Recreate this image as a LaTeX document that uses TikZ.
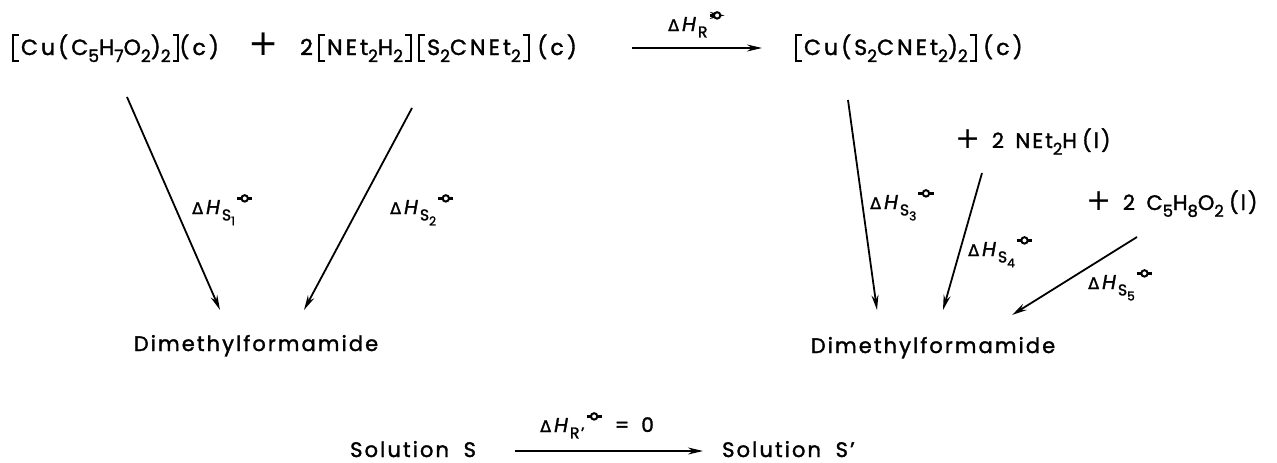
\documentclass[tikz,border=0pt]{standalone}
\usepackage{fontspec}
\setmainfont[LetterSpace=10,FakeBold=1.6]{Poppins}
\newfontfamily\dejavu[FakeBold=1.6]{DejaVu Sans}
\newfontfamily\plusfont{DejaVu Sans}
\usetikzlibrary{arrows.meta}
\newcommand{\sub}[1]{\raisebox{-0.32em}{\scalebox{0.78}{#1}}}
\newcommand{\LB}{\makebox[0.4em][l]{\rule[-0.33em]{0.09em}{1.3em}\hspace{-0.09em}\rule[-0.33em]{0.3em}{0.09em}\hspace{-0.3em}\rule[0.88em]{0.3em}{0.09em}}}
\newcommand{\RB}{\makebox[0.4em][r]{\rule[-0.33em]{0.3em}{0.09em}\hspace{-0.3em}\rule[0.88em]{0.3em}{0.09em}\hspace{-0.09em}\rule[-0.33em]{0.09em}{1.3em}}}
\newcommand{\std}{\hspace{0.05em}\tikz[baseline=0pt]{\draw[line width=0.11em] (-0.38em,0.78em) -- (0.38em,0.78em); \filldraw[fill=white, line width=0.1em] (0,0.78em) circle (0.16em);}}
\newcommand{\dH}[1]{{\dejavu\scalebox{0.8}{Δ}}\hspace{0.15em}\textit{H}\sub{#1}\std}
\newcommand{\pl}{{\plusfont\fontsize{30}{30}\selectfont +}}
\begin{document}
\begin{tikzpicture}[x=1pt,y=-1pt,
  txt/.style={inner sep=0pt, font=\fontsize{21}{25}\selectfont},
  big/.style={inner sep=0pt, font=\fontsize{22}{26}\selectfont\addfontfeatures{LetterSpace=14}},
  lbl/.style={inner sep=0pt, anchor=base west, font=\fontsize{20}{23}\selectfont},
  arr/.style={line width=1.8pt, -{Stealth[length=15pt,width=7pt]}}]
\useasboundingbox (0,0) rectangle (1277,463);
% top row
\node[big, anchor=base west] (r1) at (12,55) {\LB Cu(C\sub{5}H\sub{7}O\sub{2})\sub{2}\RB(c)};
\node[txt, font=\plusfont\fontsize{36}{36}\selectfont] (plus) at (264,44) {+};
\node[big, anchor=base west] (r2) at (300,55) {2\hspace{0.25em}\LB NEt\sub{2}H\sub{2}\RB\hspace{0.3em}\LB S\sub{2}CNEt\sub{2}\RB\hspace{0.35em}(c)};
\node[big, anchor=base west] (p) at (795,55) {\LB Cu(S\sub{2}CNEt\sub{2})\sub{2}\RB\hspace{0.3em}(c)};
\coordinate (ra) at (632,48);
\coordinate (rb) at (762,48);
\draw[arr] (ra) -- (rb) node[lbl, midway, above=17pt, anchor=base] (lr) {\dH{R}};
% left
\node[txt, anchor=base] (dmf1) at (256,351) {Dimethylformamide};
\coordinate (s1a) at (127,97);  \coordinate (s1b) at (220,310);
\coordinate (s2a) at (412,108); \coordinate (s2b) at (304,310);
\draw[arr] (s1a) -- (s1b);
\draw[arr] (s2a) -- (s2b);
\node[lbl] (l1) at (192,214) {\dH{S\sub{1}}};
\node[lbl] (l2) at (390,214) {\dH{S\sub{2}}};
% right
\node[txt, anchor=base] (dmf2) at (933,353) {Dimethylformamide};
\node[txt, anchor=base west] (n1) at (955,148) {\pl\hspace{0.55em}2\hspace{0.55em}NEt\sub{2}H\hspace{0.25em}(l)};
\node[txt, anchor=base west] (n2) at (1086,210) {\pl\hspace{0.55em}2\hspace{0.55em}C\sub{5}H\sub{8}O\sub{2}\hspace{0.25em}(l)};
\coordinate (s3a) at (848,100);  \coordinate (s3b) at (877,310);
\coordinate (s4a) at (982,173);  \coordinate (s4b) at (943,310);
\coordinate (s5a) at (1137,237); \coordinate (s5b) at (1012,315);
\draw[arr] (s3a) -- (s3b);
\draw[arr] (s4a) -- (s4b);
\draw[arr] (s5a) -- (s5b);
\node[lbl] (l3) at (870,209) {\dH{S\sub{3}}};
\node[lbl] (l4) at (968,256) {\dH{S\sub{4}}};
\node[lbl] (l5) at (1088,289) {\dH{S\sub{5}}};
% bottom
\node[txt, anchor=base west] (sa) at (350,457) {Solution\hspace{0.7em}S};
\node[txt, anchor=base west] (sb) at (722,457) {Solution\hspace{0.7em}S'};
\coordinate (ba) at (515,451);
\coordinate (bb) at (703,451);
\draw[arr] (ba) -- (bb);
\node[lbl] (lb) at (540,432) {\dH{R'}\hspace{0.6em}=\hspace{0.6em}0};
\end{tikzpicture}
\end{document}
